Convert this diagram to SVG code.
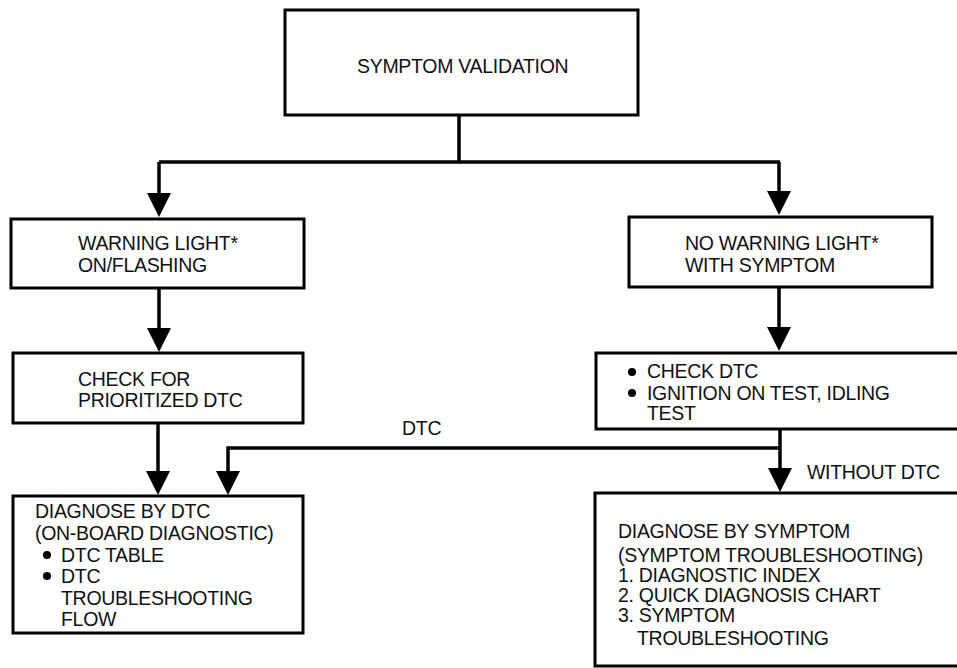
<svg xmlns="http://www.w3.org/2000/svg" width="957" height="668" viewBox="0 0 957 668">
<defs>
<style>
.box{fill:#fff;stroke:#000;stroke-width:3}
.ln{fill:none;stroke:#000;stroke-width:3.5;marker-end:url(#ah)}
.pl{fill:none;stroke:#000;stroke-width:3.5}
text{font-family:"Liberation Sans",Arial,Helvetica,sans-serif;font-size:19.5px;letter-spacing:-0.3px;fill:#111}
</style>
<marker id="ah" viewBox="0 0 24 24" refX="14" refY="12" markerWidth="24" markerHeight="24" markerUnits="userSpaceOnUse" orient="auto">
<path d="M0,0 L24,12 L0,24 z" fill="#000"/>
</marker>
</defs>
<rect width="957" height="668" fill="#fff"/>
<g id="connectors">
<path class="pl" d="M459,115 V162 M159,162 H780"/>
<path class="ln" d="M159,162 V207"/>
<path class="ln" d="M779,162 V205"/>
<path class="ln" d="M159,288 V342"/>
<path class="ln" d="M779,287 V341"/>
<path class="ln" d="M158,423 V485"/>
<path class="ln" d="M780,429 V482"/>
<path class="ln" d="M780,448 H228 V485"/>
<text x="402" y="435">DTC</text>
<text x="807" y="479">WITHOUT DTC</text>
</g>
<g id="symptom-validation">
<rect class="box" x="285" y="10" width="353" height="105"/>
<text x="357" y="73">SYMPTOM VALIDATION</text>
</g>
<g id="warning-light">
<rect class="box" x="11" y="219" width="293" height="69"/>
<text x="78" y="250">WARNING LIGHT*</text>
<text x="78" y="272">ON/FLASHING</text>
</g>
<g id="no-warning-light">
<rect class="box" x="629" y="217" width="303" height="70"/>
<text x="685" y="250">NO WARNING LIGHT*</text>
<text x="685" y="272">WITH SYMPTOM</text>
</g>
<g id="check-prioritized">
<rect class="box" x="13" y="353" width="290" height="70"/>
<text x="78" y="386">CHECK FOR</text>
<text x="78" y="407">PRIORITIZED DTC</text>
</g>
<g id="check-dtc">
<rect class="box" x="596" y="353" width="370" height="76"/>
<circle cx="632" cy="372" r="4"/>
<text x="647" y="378">CHECK DTC</text>
<circle cx="632" cy="393" r="4"/>
<text x="647" y="400">IGNITION ON TEST, IDLING</text>
<text x="647" y="420">TEST</text>
</g>
<g id="diagnose-dtc">
<rect class="box" x="13" y="496" width="290" height="137"/>
<text x="35" y="518">DIAGNOSE BY DTC</text>
<text x="35" y="540">(ON-BOARD DIAGNOSTIC)</text>
<circle cx="47" cy="555" r="4"/>
<text x="61" y="562">DTC TABLE</text>
<circle cx="47" cy="576" r="4"/>
<text x="61" y="583">DTC</text>
<text x="61" y="605">TROUBLESHOOTING</text>
<text x="61" y="626">FLOW</text>
</g>
<g id="diagnose-symptom">
<rect class="box" x="595" y="493" width="372" height="173"/>
<text x="618" y="538">DIAGNOSE BY SYMPTOM</text>
<text x="618" y="562">(SYMPTOM TROUBLESHOOTING)</text>
<text x="618" y="582">1. DIAGNOSTIC INDEX</text>
<text x="618" y="602">2. QUICK DIAGNOSIS CHART</text>
<text x="618" y="622">3. SYMPTOM</text>
<text x="637" y="645">TROUBLESHOOTING</text>
</g>
</svg>
